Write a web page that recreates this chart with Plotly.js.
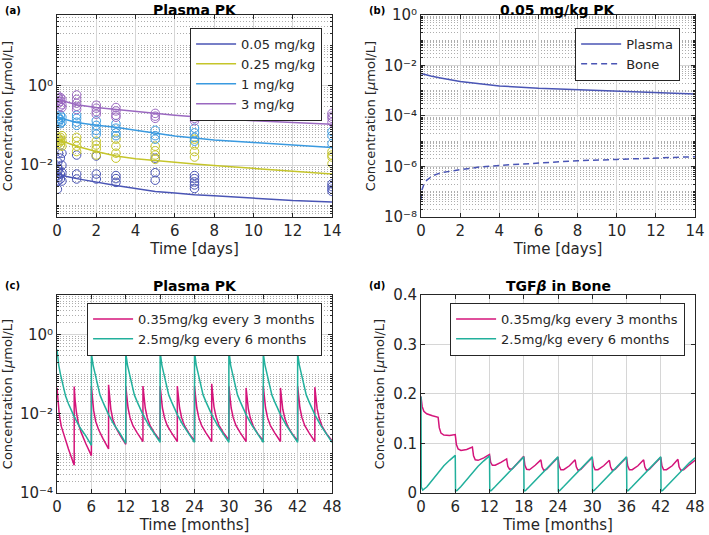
<!DOCTYPE html>
<html><head><meta charset="utf-8">
<script src="https://cdn.plot.ly/plotly-3.0.1.min.js"></script>
<style>html,body{margin:0;padding:0;background:#fff;}#chart{width:709px;height:535px;}</style>
</head><body><div id="chart"></div>
<script>
// ---------- Panel (a): Plasma PK, simulated lines (days vs umol/L) ----------
const lineDaysA = [0, 0.5, 1, 2, 3, 4, 5, 6, 7, 8, 10, 12, 14];
const simA005 = [0.0062, 0.0052, 0.0046, 0.0037, 0.0031, 0.0026, 0.0022, 0.0020, 0.0018, 0.0017, 0.0015, 0.0013, 0.0012];
const simA025 = [0.045, 0.036, 0.030, 0.022, 0.017, 0.0145, 0.013, 0.0115, 0.0107, 0.0098, 0.0083, 0.0070, 0.0060];
const simA1   = [0.16, 0.135, 0.118, 0.10, 0.09, 0.075, 0.063, 0.054, 0.048, 0.043, 0.037, 0.032, 0.028];
const simA3   = [0.45, 0.38, 0.33, 0.28, 0.25, 0.22, 0.20, 0.18, 0.165, 0.15, 0.13, 0.117, 0.106];

// ---------- Panel (a): observed data (circles) ----------
const obsT005 = [0.02,0.02,0.02, 0.04,0.04,0.04, 0.08,0.08,0.08, 0.17,0.17,0.17, 0.25,0.25,0.25,0.25, 1,1,1, 2,2,2, 3,3,3, 5,5,5, 7,7,7,7,7, 14,14,14,14];
const obsC005 = [0.009,0.0055,0.0025, 0.012,0.007,0.004, 0.02,0.008,0.005, 0.015,0.006,0.0045, 0.02,0.01,0.0065,0.004, 0.018,0.006,0.0045, 0.017,0.006,0.0045, 0.0055,0.0046,0.0037, 0.015,0.0065,0.0042, 0.0055,0.0046,0.0038,0.0032,0.0026, 0.0034,0.0029,0.0025,0.0022];
const obsT025 = [0.04,0.04, 0.08,0.08, 0.17,0.17,0.17, 0.25,0.25,0.25, 1,1,1,1, 2,2,2,2, 3,3,3,3, 5,5,5,5, 7,7,7,7, 14,14,14,14];
const obsC025 = [0.05,0.04, 0.045,0.035, 0.05,0.04,0.032, 0.055,0.042,0.03, 0.05,0.04,0.03,0.022, 0.04,0.032,0.026,0.018, 0.045,0.03,0.02,0.015, 0.03,0.023,0.018,0.014, 0.045,0.032,0.022,0.016, 0.022,0.018,0.016,0.011];
const obsT1 = [0.04,0.04, 0.08,0.08, 0.17,0.17,0.17, 0.25,0.25, 1,1,1,1, 2,2,2,2, 3,3,3,3, 5,5,5, 7,7,7,7, 14,14,14];
const obsC1 = [0.17,0.13, 0.15,0.12, 0.18,0.14,0.11, 0.16,0.12, 0.18,0.15,0.12,0.10, 0.13,0.10,0.075,0.06, 0.11,0.085,0.065,0.055, 0.075,0.055,0.045, 0.085,0.065,0.05,0.04, 0.07,0.055,0.035];
const obsT3 = [0.04,0.04, 0.08,0.08, 0.17,0.17,0.17, 0.25,0.25,0.25, 1,1,1,1,1, 2,2,2,2, 3,3,3,3, 5,5,5, 7,7,7,7, 14,14,14,14];
const obsC3 = [0.55,0.42, 0.48,0.36, 0.5,0.4,0.3, 0.45,0.33,0.28, 0.58,0.45,0.36,0.3,0.25, 0.32,0.27,0.22,0.19, 0.28,0.23,0.18,0.16, 0.2,0.17,0.15, 0.22,0.18,0.15,0.13, 0.2,0.17,0.15,0.12];

// ---------- Panel (b): 0.05 mg/kg PK ----------
const plasmaDaysB = [0, 0.25, 0.5, 1, 2, 3, 4, 6, 8, 10, 12, 14];
const plasmaB = [0.0048, 0.0042, 0.0038, 0.0032, 0.0023, 0.0019, 0.00155, 0.00125, 0.0011, 0.00095, 0.00083, 0.00074];
const boneDaysB = [0, 0.05, 0.15, 0.3, 0.6, 1, 2, 3, 4, 6, 8, 10, 12, 14];
const boneB = [4.7e-8, 1.2e-7, 2.0e-7, 2.9e-7, 4.3e-7, 5.6e-7, 7.5e-7, 9.5e-7, 1.1e-6, 1.4e-6, 1.7e-6, 1.9e-6, 2.2e-6, 2.45e-6];

// ---------- Panel (c): repeated dosing, plasma (months) ----------
const doseMonths3 = [0, 3, 6, 9, 12, 15, 18, 21, 24, 27, 30, 33, 36, 39, 42, 45];
const doseMonths6 = [0, 6, 12, 18, 24, 30, 36, 42];
const offsetsC3 = [0, 0.15, 0.4, 0.75, 1.25, 2, 3];
const plasmaC035 = [
  [0.045, 0.021, 0.0094, 0.0048, 0.0027, 0.0013, 0.0005],
  [0.049, 0.023, 0.0105, 0.0055, 0.0033, 0.0018, 0.00088],
  [0.050, 0.024, 0.012, 0.0065, 0.0040, 0.0024, 0.0013],
  [0.054, 0.025, 0.013, 0.0072, 0.0045, 0.0029, 0.0017],
  [0.050, 0.026, 0.014, 0.008, 0.0050, 0.0033, 0.0020],
  [0.050, 0.026, 0.014, 0.008, 0.0050, 0.0033, 0.0021],
  [0.050, 0.026, 0.014, 0.008, 0.0050, 0.0033, 0.0020],
  [0.050, 0.026, 0.014, 0.008, 0.0050, 0.0033, 0.0021],
  [0.050, 0.026, 0.014, 0.008, 0.0050, 0.0033, 0.0020],
  [0.057, 0.028, 0.015, 0.0085, 0.0052, 0.0034, 0.0022],
  [0.050, 0.026, 0.014, 0.008, 0.0050, 0.0033, 0.0020],
  [0.045, 0.024, 0.013, 0.0078, 0.0049, 0.0032, 0.0021],
  [0.050, 0.026, 0.014, 0.008, 0.0050, 0.0033, 0.0020],
  [0.045, 0.024, 0.013, 0.0078, 0.0049, 0.0032, 0.0021],
  [0.050, 0.026, 0.014, 0.008, 0.0050, 0.0033, 0.0020],
  [0.047, 0.025, 0.0135, 0.0079, 0.0049, 0.0032, 0.0021]
];
const offsetsC6 = [0, 0.1, 0.3, 0.6, 1, 1.5, 2, 3, 4, 5, 6];
const plasmaC25 = [
  [0.42, 0.30, 0.17, 0.10, 0.054, 0.028, 0.018, 0.0085, 0.0045, 0.0028, 0.0016],
  [0.36, 0.27, 0.17, 0.11, 0.058, 0.030, 0.020, 0.0095, 0.0052, 0.0032, 0.0018],
  [0.36, 0.27, 0.17, 0.11, 0.058, 0.030, 0.020, 0.0095, 0.0052, 0.0032, 0.0019],
  [0.37, 0.28, 0.17, 0.11, 0.058, 0.030, 0.020, 0.0095, 0.0052, 0.0032, 0.0019],
  [0.37, 0.28, 0.17, 0.11, 0.058, 0.030, 0.020, 0.0095, 0.0052, 0.0032, 0.0019],
  [0.40, 0.29, 0.17, 0.11, 0.058, 0.030, 0.020, 0.0095, 0.0052, 0.0032, 0.0019],
  [0.33, 0.26, 0.17, 0.11, 0.058, 0.030, 0.020, 0.0095, 0.0052, 0.0032, 0.0019],
  [0.33, 0.26, 0.17, 0.11, 0.058, 0.030, 0.020, 0.0095, 0.0052, 0.0032, 0.0019]
];

// ---------- Panel (d): TGF-beta in bone (months) ----------
const offsetsD3 = [0, 0.2, 0.5, 1, 2, 3];
const tgfD035 = [
  [0.195, 0.175, 0.165, 0.160, 0.156, 0.153],
  [0.153, 0.132, 0.121, 0.117, 0.116, 0.118],
  [0.118, 0.098, 0.089, 0.086, 0.088, 0.093],
  [0.093, 0.075, 0.067, 0.066, 0.071, 0.078],
  [0.078, 0.062, 0.056, 0.056, 0.062, 0.069],
  [0.069, 0.054, 0.048, 0.049, 0.061, 0.074],
  [0.074, 0.056, 0.048, 0.047, 0.056, 0.067],
  [0.067, 0.053, 0.046, 0.048, 0.060, 0.072],
  [0.072, 0.055, 0.047, 0.047, 0.055, 0.067],
  [0.067, 0.053, 0.046, 0.048, 0.060, 0.072],
  [0.072, 0.055, 0.047, 0.047, 0.055, 0.066],
  [0.066, 0.053, 0.046, 0.048, 0.060, 0.072],
  [0.072, 0.055, 0.047, 0.047, 0.055, 0.067],
  [0.067, 0.053, 0.046, 0.048, 0.060, 0.072],
  [0.072, 0.055, 0.047, 0.047, 0.055, 0.068],
  [0.068, 0.053, 0.046, 0.047, 0.057, 0.066]
];
const offsetsD6 = [0, 0.05, 0.3, 1, 1.5, 2, 3, 4, 5, 6];
const tgfD25 = [
  [0.195, 0.012, 0.006, 0.012, 0.019, 0.026, 0.042, 0.055, 0.066, 0.076],
  [0.076, 0.004, 0.005, 0.013, 0.020, 0.027, 0.041, 0.054, 0.065, 0.075],
  [0.075, 0.004, 0.005, 0.013, 0.019, 0.026, 0.039, 0.050, 0.062, 0.073],
  [0.073, 0.004, 0.005, 0.013, 0.019, 0.026, 0.039, 0.050, 0.062, 0.073],
  [0.073, 0.004, 0.005, 0.013, 0.019, 0.026, 0.039, 0.050, 0.062, 0.073],
  [0.073, 0.004, 0.005, 0.013, 0.019, 0.026, 0.039, 0.050, 0.062, 0.073],
  [0.073, 0.004, 0.005, 0.013, 0.019, 0.026, 0.039, 0.050, 0.062, 0.073],
  [0.073, 0.004, 0.005, 0.013, 0.019, 0.026, 0.039, 0.050, 0.061, 0.071]
];

// ---------- labels ----------
const doseLabelsA = ['0.05 mg/kg', '0.25 mg/kg', '1 mg/kg', '3 mg/kg'];
const labelsB = ['Plasma', 'Bone'];
const regimenLabels = ['0.35mg/kg every 3 months', '2.5mg/kg every 6 months'];
const panelTitles = ['Plasma PK', '0.05 mg/kg PK', 'Plasma PK', 'TGF<i>β</i> in Bone'];
const panelTags = ['(a)', '(b)', '(c)', '(d)'];
const logTickExps = [0, -2, -4, -6, -8];
const logTickText = ['10⁰', '10⁻²', '10⁻⁴', '10⁻⁶', '10⁻⁸'];

// ---------- styling ----------
const FONT = 'DejaVu Sans';
const cDark = '#4a55b5', cYel = '#c5c52a', cBlue = '#3a9ae0', cPurp = '#9a68c0';
const cMag = '#d4147a', cTeal = '#22b09c';

function expand(doses, offsets, cycles) {
  const t = [], v = [];
  cycles.forEach((c, i) => c.forEach((val, j) => { t.push(doses[i] + offsets[j]); v.push(val); }));
  return {t, v};
}
// minor log grid positions (1..9 x 10^n), axis decoration only
function logMinorVals(lo, hi) {
  const out = [];
  for (let e = lo; e <= hi; e++) for (let m = 1; m <= 9; m++) out.push(m * Math.pow(10, e));
  return out;
}

const traces = [];
const obsSets = [[obsT005, obsC005, cDark], [obsT025, obsC025, cYel], [obsT1, obsC1, cBlue], [obsT3, obsC3, cPurp]];
obsSets.forEach(s => traces.push({x: s[0], y: s[1], type: 'scatter', mode: 'markers', xaxis: 'x', yaxis: 'y', showlegend: false,
  marker: {symbol: 'circle-open', size: 8.5, color: s[2], line: {width: 1, color: s[2]}}}));
[[simA005, cDark], [simA025, cYel], [simA1, cBlue], [simA3, cPurp]].forEach((s, i) => traces.push({
  x: lineDaysA, y: s[0], type: 'scatter', mode: 'lines', xaxis: 'x', yaxis: 'y', name: doseLabelsA[i], legend: 'legend',
  line: {color: s[1], width: 1.5}}));

traces.push({x: plasmaDaysB, y: plasmaB, type: 'scatter', mode: 'lines', xaxis: 'x2', yaxis: 'y2', name: labelsB[0], legend: 'legend2', line: {color: cDark, width: 1.5}});
traces.push({x: boneDaysB, y: boneB, type: 'scatter', mode: 'lines', xaxis: 'x2', yaxis: 'y2', name: labelsB[1], legend: 'legend2', line: {color: cDark, width: 1.5, dash: '6px,4px'}});

const c035 = expand(doseMonths3, offsetsC3, plasmaC035);
const c25 = expand(doseMonths6, offsetsC6, plasmaC25);
traces.push({x: c035.t, y: c035.v, type: 'scatter', mode: 'lines', xaxis: 'x3', yaxis: 'y3', name: regimenLabels[0], legend: 'legend3', line: {color: cMag, width: 1.5}});
traces.push({x: c25.t, y: c25.v, type: 'scatter', mode: 'lines', xaxis: 'x3', yaxis: 'y3', name: regimenLabels[1], legend: 'legend3', line: {color: cTeal, width: 1.5}});

const d035 = expand(doseMonths3, offsetsD3, tgfD035);
const d25 = expand(doseMonths6, offsetsD6, tgfD25);
traces.push({x: d035.t, y: d035.v, type: 'scatter', mode: 'lines', xaxis: 'x4', yaxis: 'y4', name: regimenLabels[0], legend: 'legend4', line: {color: cMag, width: 1.5}});
traces.push({x: d25.t, y: d25.v, type: 'scatter', mode: 'lines', xaxis: 'x4', yaxis: 'y4', name: regimenLabels[1], legend: 'legend4', line: {color: cTeal, width: 1.5}});

function ax(extra) {
  return Object.assign({
    showline: true, linecolor: '#262626', linewidth: 1, mirror: 'ticks',
    ticks: 'inside', ticklen: 4, tickcolor: '#262626',
    showgrid: true, gridcolor: '#d6d6d6', gridwidth: 1, zeroline: false,
    tickfont: {family: FONT, size: 15, color: '#262626'}
  }, extra);
}
function logMinor(lo, hi) {
  return {tickmode: 'array', tickvals: logMinorVals(lo, hi), showgrid: true, gridcolor: '#adadad', griddash: '1px,2px',
    gridwidth: 1, ticks: 'inside', ticklen: 2, tickcolor: '#262626'};
}
const xTitleDays = {text: 'Time [days]', font: {family: FONT, size: 15, color: '#262626'}, standoff: 3};
const xTitleMonths = {text: 'Time [months]', font: {family: FONT, size: 15, color: '#262626'}, standoff: 3};
const yTitle = {text: 'Concentration [<i>μ</i>mol/L]', font: {family: FONT, size: 13, color: '#262626'}, standoff: 5};
function logY(lo, hi) {
  const idx = logTickExps.map((e, i) => i).filter(i => logTickExps[i] >= lo && logTickExps[i] <= hi);
  return {type: 'log', tickmode: 'array', tickvals: idx.map(i => Math.pow(10, logTickExps[i])),
    ticktext: idx.map(i => logTickText[i]),
    minor: logMinor(Math.floor(lo), Math.ceil(hi)), title: yTitle, range: [lo, hi]};
}

const dA = [0.0804, 0.4683], dB = [0.5938, 0.9803];
const dTop = [0.5944, 0.972], dBot = [0.0785, 0.4486];

function legendBox(x, y) {
  return {x: x, y: y, xanchor: 'right', yanchor: 'top', bgcolor: '#ffffff', bordercolor: '#262626', borderwidth: 1.2,
    font: {family: FONT, size: 13, color: '#262626'}, tracegroupgap: 0, itemwidth: 40};
}

const ann = [];
const titleX = [(dA[0] + dA[1]) / 2, (dB[0] + dB[1]) / 2, (dA[0] + dA[1]) / 2, (dB[0] + dB[1]) / 2];
const titleY = [0.981, 0.981, 0.4654, 0.4654];
panelTitles.forEach((t, i) => ann.push({text: '<b>' + t + '</b>', x: titleX[i], y: titleY[i], xref: 'paper', yref: 'paper',
  xanchor: 'center', yanchor: 'middle', showarrow: false, font: {family: FONT, size: 14, color: '#000'}}));
const tagX = [0.004, 0.518, 0.004, 0.518];
const tagY = [0.98, 0.98, 0.467, 0.467];
panelTags.forEach((t, i) => ann.push({text: '<b>' + t + '</b>', x: tagX[i], y: tagY[i], xref: 'paper', yref: 'paper',
  xanchor: 'left', yanchor: 'middle', showarrow: false, font: {family: FONT, size: 10, color: '#000'}}));

const layout = {
  width: 709, height: 535, margin: {l: 0, r: 0, t: 0, b: 0}, paper_bgcolor: '#fff', plot_bgcolor: '#fff',
  font: {family: FONT},
  xaxis: ax({domain: dA, anchor: 'y', range: [0, 14], dtick: 2, tick0: 0, title: xTitleDays}),
  yaxis: ax(Object.assign({domain: dTop, anchor: 'x'}, logY(-3.3, 1.77))),
  xaxis2: ax({domain: dB, anchor: 'y2', range: [0, 14], dtick: 2, tick0: 0, title: xTitleDays}),
  yaxis2: ax(Object.assign({domain: dTop, anchor: 'x2'}, logY(-8, 0))),
  xaxis3: ax({domain: dA, anchor: 'y3', range: [0, 48], dtick: 6, tick0: 0, title: xTitleMonths}),
  yaxis3: ax(Object.assign({domain: dBot, anchor: 'x3'}, logY(-4, 1))),
  xaxis4: ax({domain: dB, anchor: 'y4', range: [0, 48], dtick: 6, tick0: 0, title: xTitleMonths}),
  yaxis4: ax({domain: dBot, anchor: 'x4', range: [0, 0.4], dtick: 0.1, tick0: 0, title: yTitle}),
  legend: legendBox(0.454, 0.948),
  legend2: legendBox(0.959, 0.948),
  legend3: legendBox(0.454, 0.434),
  legend4: legendBox(0.966, 0.434),
  annotations: ann,
  showlegend: true
};

Plotly.newPlot('chart', traces, layout, {staticPlot: true, displayModeBar: false});
</script></body></html>
